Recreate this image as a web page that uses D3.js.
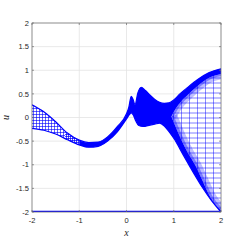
<!DOCTYPE html>
<html><head><meta charset="utf-8">
<script src="https://cdn.jsdelivr.net/npm/d3@7"></script>
<style>html,body{margin:0;padding:0;background:#fff;}svg{display:block;}</style>
</head><body>
<script>
// ---- data ----
const xTicks = [-2, -1, 0, 1, 2];
const yTicks = [-2, -1.5, -1, -0.5, 0, 0.5, 1, 1.5, 2];
const xTickLabels = ["-2", "-1", "0", "1", "2"];
const yTickLabels = ["-2", "-1.5", "-1", "-0.5", "0", "0.5", "1", "1.5", "2"];

// upper envelope of the family of curves
const topX = [-2,-1.75,-1.5,-1.25,-1,-0.8,-0.6,-0.4,-0.2,0,0.05,0.1,0.14,0.18,0.24,0.31,0.4,0.5,0.6,0.7,0.8,0.9,1.0,1.13,1.25,1.5,1.75,2];
const topU = [0.27,0.12,-0.09,-0.33,-0.48,-0.53,-0.52,-0.41,-0.2,0.08,0.22,0.45,0.38,0.27,0.52,0.64,0.57,0.47,0.38,0.32,0.3,0.31,0.37,0.5,0.6,0.8,0.95,1.03];
// lower envelope
const botX = [-2,-1.75,-1.5,-1.25,-1,-0.8,-0.6,-0.4,-0.2,0,0.06,0.1,0.14,0.2,0.26,0.35,0.5,0.6,0.7,0.8,0.9,1.0,1.2,1.4,1.6,1.8,2];
const botU = [-0.23,-0.27,-0.35,-0.47,-0.58,-0.63,-0.61,-0.5,-0.31,-0.03,0.06,0.1,0.06,-0.08,-0.17,-0.19,-0.16,-0.14,-0.12,-0.18,-0.3,-0.44,-0.79,-1.14,-1.47,-1.76,-2.0];
// inner edges of the fan opening between the two branches (x > 0.9)
const upInX = [0.95,1.05,1.15,1.3,1.5,1.75,2];
const upInU = [0.02,0.2,0.33,0.48,0.66,0.84,0.92];
const loInX = [0.95,1.05,1.15,1.3,1.45,1.6,1.78,2];
const loInU = [0.02,-0.22,-0.45,-0.75,-1.0,-1.32,-1.7,-1.97];
// meshed parts of the band on the left: [from, to]
const hatchOpen = [-2, -1.3];
const hatchDense = [-1.3, -1.0];
// flat line along the bottom
const baseU = -2;

// ---- layout ----
const W = 245, H = 245;
const m = {l: 32, r: 24, t: 23, b: 33};
const svg = d3.select("body").append("svg").attr("width", W).attr("height", H);
const x = d3.scaleLinear().domain([-2, 2]).range([m.l, W - m.r]);
const y = d3.scaleLinear().domain([-2, 2]).range([H - m.b, m.t]);
const blue = "#0000ff";

const defs = svg.append("defs");
const clipX = (id, a, b) => defs.append("clipPath").attr("id", id).append("rect")
  .attr("x", x(a)).attr("y", y(2)).attr("width", x(b) - x(a)).attr("height", y(-2) - y(2));
clipX("plot", -2, 2);
clipX("left", hatchOpen[0], hatchOpen[1]);
clipX("mid", hatchDense[0], hatchDense[1]);
clipX("right", hatchDense[1], 2);

function pattern(id, w, h, o) {
  const p = defs.append("pattern").attr("id", id).attr("patternUnits", "userSpaceOnUse")
    .attr("width", w).attr("height", h);
  p.append("rect").attr("width", w).attr("height", 1).attr("fill", blue).attr("fill-opacity", o);
  p.append("rect").attr("width", 1).attr("height", h).attr("fill", blue).attr("fill-opacity", o);
}
pattern("hatch", 3, 3, 0.6);
pattern("hatch2", 2, 2, 0.7);
const sparse = defs.append("pattern").attr("id", "sparse").attr("patternUnits", "userSpaceOnUse")
  .attr("width", 8).attr("height", 5).attr("x", x(2)).attr("y", y(0));
sparse.append("rect").attr("width", 8).attr("height", 1).attr("fill", blue).attr("fill-opacity", 0.5);
sparse.append("rect").attr("width", 1).attr("height", 5).attr("fill", blue).attr("fill-opacity", 0.45);

// ---- grid ----
const g = svg.append("g");
g.selectAll(".gx").data(xTicks).join("line")
  .attr("x1", d => x(d)).attr("x2", d => x(d)).attr("y1", y(-2)).attr("y2", y(2))
  .attr("stroke", "#e3e3e3").attr("stroke-width", 0.8);
g.selectAll(".gy").data(yTicks).join("line")
  .attr("y1", d => y(d)).attr("y2", d => y(d)).attr("x1", x(-2)).attr("x2", x(2))
  .attr("stroke", "#e3e3e3").attr("stroke-width", 0.8);

// ---- curves ----
const pts = (xs, us) => xs.map((v, i) => [x(v), y(us[i])]);
const lineGen = d3.line().curve(d3.curveMonotoneX);
const topPts = pts(topX, topU), botPts = pts(botX, botU);
const outerPath = lineGen(topPts) + "L" + lineGen(botPts.slice().reverse()).slice(1) + "Z";
const upIn = pts(upInX, upInU), loIn = pts(loInX, loInU);
const fanPath = lineGen(upIn) + "L" + x(2) + "," + y(upInU[upInU.length-1]) + "L" + x(2) + "," + y(loInU[loInU.length-1])
  + "L" + lineGen(loIn.slice().reverse()).slice(1) + "Z";

const plot = svg.append("g").attr("clip-path", "url(#plot)");
plot.append("g").attr("clip-path", "url(#left)").append("path")
  .attr("d", outerPath).attr("fill", "url(#hatch)");
plot.append("g").attr("clip-path", "url(#mid)").append("path")
  .attr("d", outerPath).attr("fill", "url(#hatch2)");
plot.append("g").attr("clip-path", "url(#right)").append("path")
  .attr("d", outerPath).attr("fill", blue);
defs.append("clipPath").attr("id", "fan").append("path").attr("d", fanPath);
plot.append("path").attr("d", fanPath).attr("fill", "#fff");
plot.append("path").attr("d", fanPath).attr("fill", "url(#sparse)");
const fanG = plot.append("g").attr("clip-path", "url(#fan)");
[[upIn, 10, 0.25], [upIn, 4, 0.35], [loIn, 12, 0.25], [loIn, 5, 0.35]].forEach(([p, w, o]) => {
  fanG.append("path").attr("d", lineGen(p)).attr("fill", "none")
    .attr("stroke", blue).attr("stroke-width", w).attr("stroke-opacity", o);
});
plot.append("path").attr("d", lineGen(topPts)).attr("fill", "none").attr("stroke", blue).attr("stroke-width", 1.2);
plot.append("path").attr("d", lineGen(botPts)).attr("fill", "none").attr("stroke", blue).attr("stroke-width", 1.2);
plot.append("line").attr("x1", x(-2)).attr("x2", x(2)).attr("y1", y(baseU)).attr("y2", y(baseU))
  .attr("stroke", blue).attr("stroke-width", 2.4);

// ---- axes box ----
const ax = svg.append("g").attr("font-family", "'Liberation Sans', Arial, sans-serif").attr("font-size", 7.5).attr("fill", "#262626");
const axisCol = "#6e6e6e";
ax.append("rect").attr("x", x(-2)).attr("y", y(2)).attr("width", x(2) - x(-2)).attr("height", y(-2) - y(2))
  .attr("fill", "none").attr("stroke", axisCol).attr("stroke-width", 0.7);
xTicks.forEach(d => {
  ax.append("line").attr("x1", x(d)).attr("x2", x(d)).attr("y1", y(-2)).attr("y2", y(-2) - 2).attr("stroke", axisCol).attr("stroke-width", 0.7);
  ax.append("line").attr("x1", x(d)).attr("x2", x(d)).attr("y1", y(2)).attr("y2", y(2) + 2).attr("stroke", axisCol).attr("stroke-width", 0.7);
});
yTicks.forEach(d => {
  ax.append("line").attr("y1", y(d)).attr("y2", y(d)).attr("x1", x(-2)).attr("x2", x(-2) + 2).attr("stroke", axisCol).attr("stroke-width", 0.7);
  ax.append("line").attr("y1", y(d)).attr("y2", y(d)).attr("x1", x(2)).attr("x2", x(2) - 2).attr("stroke", axisCol).attr("stroke-width", 0.7);
});
ax.selectAll(".xl").data(xTicks).join("text")
  .attr("x", d => x(d)).attr("y", y(-2) + 11).attr("text-anchor", "middle").text((d, i) => xTickLabels[i]);
ax.selectAll(".yl").data(yTicks).join("text")
  .attr("x", x(-2) - 3).attr("y", d => y(d) + 2.7).attr("text-anchor", "end").text((d, i) => yTickLabels[i]);

svg.append("text").attr("x", (x(-2) + x(2)) / 2).attr("y", 236).attr("text-anchor", "middle")
  .attr("font-family", "'Liberation Serif', 'DejaVu Serif', serif").attr("font-style", "italic").attr("font-size", 10)
  .attr("fill", "#262626").text("x");
svg.append("text").attr("transform", `translate(9,${(y(-2) + y(2)) / 2}) rotate(-90)`).attr("text-anchor", "middle")
  .attr("font-family", "'Liberation Serif', 'DejaVu Serif', serif").attr("font-style", "italic").attr("font-size", 10)
  .attr("fill", "#262626").text("u");
</script>
</body></html>
